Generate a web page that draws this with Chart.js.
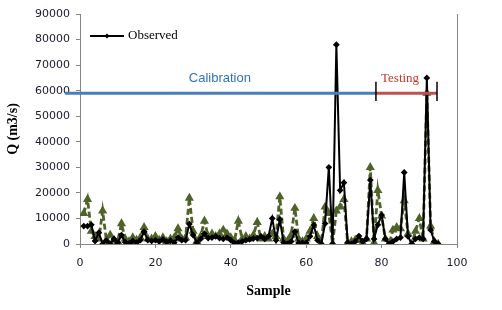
<!DOCTYPE html>
<html>
<head>
<meta charset="utf-8">
<script src="https://cdn.jsdelivr.net/npm/chart.js@4.4.1/dist/chart.umd.min.js"></script>
<style>
  html, body { margin: 0; padding: 0; background: #fff; }
</style>
</head>
<body>
<canvas id="qChart" width="502" height="310"></canvas>
<script>
// sample numbers (1..95)
const samples = Array.from({length: 95}, (_, i) => i + 1);

// observed discharge, m3/s
const observed = [
  7000, 7000, 7500, 1200, 4400, 0, 1300, 0, 2000, 500,
  3500, 700, 200, 1200, 500, 1500, 4800, 1500, 1200, 1500,
  1000, 1800, 800, 1300, 500, 2500, 1500, 1500, 7800, 3500,
  500, 2000, 4000, 2300, 2500, 3000, 2300, 2000, 2500, 1500,
  300, 500, 1000, 1500, 1800, 2200, 2300, 3000, 2000, 3000,
  10000, 1500, 9600, 600, 0, 1000, 4800, 400, 500, 400,
  3000, 7400, 1500, 0, 8000, 30000, 0, 78000, 21000, 24000,
  500, 0, 1000, 3100, 1000, 2000, 25000, 2000, 7500, 11300,
  2000, 0, 1000, 2000, 2500, 28000, 3000, 0, 2000, 2500,
  2000, 65000, 5500, 1000, 0
];

// predicted discharge (dashed green series, no legend entry)
const predicted = [
  12000, 17500, 5000, 3000, 2000, 13000, 1500, 3500, 1500, 1000,
  8000, 2000, 1000, 2500, 1500, 2500, 6500, 2000, 2000, 3000,
  1500, 2500, 1000, 2000, 2500, 6000, 2000, 2500, 18000, 5000,
  1000, 3000, 9000, 3000, 4000, 3000, 4000, 5500, 4000, 2500,
  1500, 9000, 2000, 3000, 2000, 3500, 8500, 2000, 3000, 2000,
  4000, 3000, 18500, 2000, 1000, 3500, 14000, 2000, 1000, 2000,
  5000, 10000, 3000, 0, 14500, 12000, 0, 13000, 14500, 17500,
  500, 1000, 1500, 1500, 500, 2000, 30000, 500, 21000, 11000,
  2000, 0, 5500, 6500, 6000, 17000, 4000, 0, 5000, 10000,
  2000, 59000, 7000, 1000, 0
];

// calibration / testing split markers
const splitLevel = 59000;
const calibRange = [-4, 78.5];
const testRange = [78.5, 94.7];
const splitTick = [56000, 63500];
const calibLabel = 'Calibration';
const testLabel = 'Testing';
const calibLabelAt = [37.1, 64800];
const testLabelAt = [84.9, 64800];

const xTicks = [0, 20, 40, 60, 80, 100];
const yMax = 90000;

const toPts = (vals) => vals.map((v, i) => ({x: samples[i], y: v}));
const hLine = (r) => [{x: r[0], y: splitLevel}, {x: r[1], y: splitLevel}];
const vLine = (xv) => [{x: xv, y: splitTick[0]}, {x: xv, y: splitTick[1]}];

const overlay = {
  id: 'overlay',
  afterDraw(chart) {
    const {ctx, chartArea: a, scales: {x, y}} = chart;
    ctx.save();
    // right frame line
    ctx.strokeStyle = '#868686';
    ctx.lineWidth = 1;
    ctx.beginPath();
    ctx.moveTo(Math.round(a.right) + 0.5, a.top);
    ctx.lineTo(Math.round(a.right) + 0.5, a.bottom);
    ctx.stroke();

    ctx.textAlign = 'center';
    ctx.textBaseline = 'middle';
    ctx.font = '13px "Liberation Sans"';
    ctx.fillStyle = '#2E75B6';
    ctx.fillText(calibLabel, x.getPixelForValue(calibLabelAt[0]), y.getPixelForValue(calibLabelAt[1]));
    ctx.font = '13px "Liberation Serif"';
    ctx.fillStyle = '#C0392B';
    ctx.fillText(testLabel, x.getPixelForValue(testLabelAt[0]), y.getPixelForValue(testLabelAt[1]));

    // legend (Observed only)
    const lx = a.left + 10, ly = a.top + 22;
    ctx.strokeStyle = '#000';
    ctx.lineWidth = 2;
    ctx.beginPath();
    ctx.moveTo(lx, ly);
    ctx.lineTo(lx + 34, ly);
    ctx.stroke();
    ctx.fillStyle = '#000';
    ctx.beginPath();
    ctx.moveTo(lx + 17, ly - 2.5); ctx.lineTo(lx + 19.5, ly);
    ctx.lineTo(lx + 17, ly + 2.5); ctx.lineTo(lx + 14.5, ly);
    ctx.closePath(); ctx.fill();
    ctx.textAlign = 'left';
    ctx.font = '13px "Liberation Serif"';
    ctx.fillText('Observed', lx + 38, ly);
    ctx.restore();
  }
};

const ctx = document.getElementById('qChart').getContext('2d');
new Chart(ctx, {
  type: 'line',
  data: {
    datasets: [
      {label: 'Predicted', data: toPts(predicted), borderColor: '#4F6228', backgroundColor: '#4F6228',
       borderWidth: 2.8, borderDash: [6, 3], pointStyle: 'triangle', pointRadius: 2.5, tension: 0, order: 3},
      {label: 'Observed', data: toPts(observed), borderColor: '#000', backgroundColor: '#000',
       borderWidth: 2, pointStyle: 'rectRot', pointRadius: 2, tension: 0, order: 2},
      {label: 'cal', data: hLine(calibRange), borderColor: '#4A7EBB', borderWidth: 3,
       pointRadius: 0, clip: false, order: 1},
      {label: 'test', data: hLine(testRange), borderColor: '#C0504D', borderWidth: 3,
       pointRadius: 0, clip: false, order: 1},
      {label: 't1', data: vLine(testRange[0]), borderColor: '#000', borderWidth: 1.5,
       pointRadius: 0, clip: false, order: 0},
      {label: 't2', data: vLine(testRange[1]), borderColor: '#000', borderWidth: 1.5,
       pointRadius: 0, clip: false, order: 0}
    ]
  },
  options: {
    responsive: false,
    animation: false,
    layout: {padding: {left: 0, right: 45, top: 14, bottom: 0}},
    plugins: {legend: {display: false}, tooltip: {enabled: false}},
    scales: {
      x: {
        type: 'linear', min: 0, max: 100,
        afterFit: (s) => { s.height = 66; },
        afterBuildTicks: (s) => { s.ticks = xTicks.map(v => ({value: v})); },
        grid: {drawOnChartArea: false, tickLength: 4, color: '#868686'},
        border: {color: '#868686'},
        ticks: {padding: 9, color: '#1a1a2e', font: {family: 'DejaVu Sans', size: 11}, maxRotation: 0,
                callback: (v) => String(v)},
        title: {display: true, text: 'Sample', color: '#000',
                font: {family: 'Liberation Serif', size: 14, weight: 'bold'}, padding: {top: 0, bottom: 10}}
      },
      y: {
        min: 0, max: yMax,
        afterFit: (s) => { s.width = 80; },
        grid: {drawOnChartArea: false, tickLength: 4, color: '#868686'},
        border: {color: '#868686'},
        ticks: {stepSize: 10000, padding: 6, color: '#1a1a2e', font: {family: 'DejaVu Sans', size: 11},
                callback: (v) => String(v)},
        title: {display: true, text: 'Q (m3/s)', color: '#000',
                font: {family: 'Liberation Serif', size: 14, weight: 'bold'}, padding: {top: 5, bottom: 0}}
      }
    }
  },
  plugins: [overlay]
});
</script>
</body>
</html>
